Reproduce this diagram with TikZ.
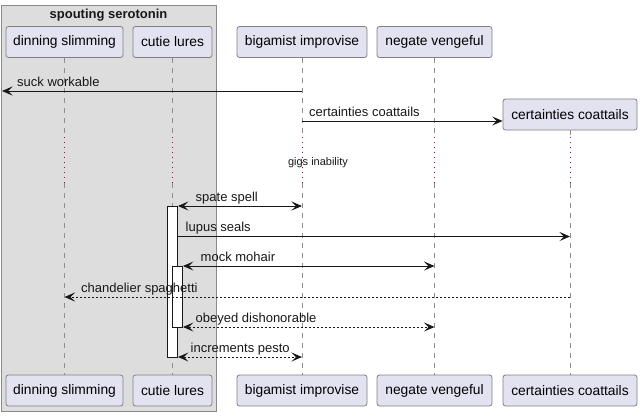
\documentclass[tikz,border=0pt]{standalone}
\usepackage{fontspec}
\setmainfont{Liberation Sans}
\usetikzlibrary{arrows.meta,calc}
\definecolor{partfill}{HTML}{E2E2F0}
\definecolor{partline}{HTML}{808080}
\definecolor{boxfill}{HTML}{DDDDDD}
\definecolor{boxline}{HTML}{8A8A8A}
\definecolor{lifecol}{HTML}{8E8E8E}
\definecolor{delaycol}{HTML}{C0003C}
\definecolor{ink}{HTML}{181818}
\begin{document}
\begin{tikzpicture}[x=1pt,y=-1pt,
  part/.style={draw=partline, fill=partfill, rounded corners=2.5pt, line width=0.8pt,
    inner sep=0pt, minimum height=31pt, font=\fontsize{13.8}{16}\selectfont},
  grp/.style={draw=boxline, fill=boxfill, line width=0.8pt, inner sep=0pt},
  lifel/.style={draw=lifecol, line width=0.8pt, dash pattern=on 5pt off 5pt},
  delayl/.style={draw=delaycol, line width=0.8pt, dash pattern=on 1pt off 4pt},
  tip/.tip={Stealth[length=10.5pt,width=9pt,inset=4.5pt]},
  msg/.style={draw=ink, line width=0.9pt, -tip},
  bimsg/.style={draw=ink, line width=0.9pt, tip-tip},
  dmsg/.style={dash pattern=on 2pt off 2pt},
  lbl/.style={font=\fontsize{13}{15}\selectfont, inner sep=0pt, anchor=base west, text=ink},
  act/.style={draw=ink, fill=white, line width=0.9pt, minimum width=10pt, inner sep=0pt}
]
\useasboundingbox (0,0) rectangle (642,416);
% group box
\node[grp, minimum width=215pt, minimum height=406pt] (grp) at (108.5,208) {};
\node[font=\bfseries\fontsize{13}{15}\selectfont, text=ink, inner sep=0pt] (grpt) at (108.5,15) {spouting serotonin};
% participants (top)
\node[part, minimum width=117pt] (pA) at (64.5,42) {dinning slimming};
\node[part, minimum width=79pt]  (pBq) at (172.5,42) {cutie lures};
\node[part, minimum width=130pt] (pB) at (302,42) {bigamist improvise};
\node[part, minimum width=115pt] (pC) at (434.5,42) {negate vengeful};
\node[part, minimum width=134pt] (pE) at (570,114.5) {certainties coattails};
% participants (bottom)
\node[part, minimum width=117pt] (pAb) at (64.5,390.5) {dinning slimming};
\node[part, minimum width=79pt]  (pBqb) at (172.5,390.5) {cutie lures};
\node[part, minimum width=130pt] (pBb) at (302,390.5) {bigamist improvise};
\node[part, minimum width=115pt] (pCb) at (434.5,390.5) {negate vengeful};
\node[part, minimum width=134pt] (pEb) at (570,390.5) {certainties coattails};
% delay marks
\coordinate (d1) at (0,137);
\coordinate (d2) at (0,183);
\foreach \p in {pA,pBq,pB,pC,pE}{
  \draw[lifel] (\p.south) -- (\p.south |- d1);
  \draw[delayl] (\p.south |- d1) -- (\p.south |- d2);
  \draw[lifel] (\p.south |- d2) -- (\p b.north);
}
\node[font=\fontsize{11}{13}\selectfont, inner sep=0pt, text=ink] (delay) at (318,163) {gigs inability};
% activation bars
\node[act, minimum height=151pt] (barA) at (172.5,281.5) {};
\node[act, minimum height=61pt] (barB) at (177.5,296.5) {};
% message rows
\coordinate (m1) at (0,91);
\coordinate (m2) at (0,121);
\coordinate (m3) at (0,206);
\coordinate (m4) at (0,236.5);
\coordinate (m5) at (0,266);
\coordinate (m6) at (0,297);
\coordinate (m7) at (0,327);
\coordinate (m8) at (0,357);
\coordinate (leftend) at (2,91);
% messages
\draw[msg] (pB |- m1) -- (leftend);
\node[lbl] (l1) at (17,86) {suck workable};
\draw[msg] (pB |- m2) -- (pE.west |- m2);
\node[lbl] (l2) at (309,116) {certainties coattails};
\draw[bimsg] (barA.east |- m3) -- (pB |- m3);
\node[lbl] (l3) at (195.5,201) {spate spell};
\draw[msg] (barA.east |- m4) -- (pE |- m4);
\node[lbl] (l4) at (185.5,231.5) {lupus seals};
\draw[bimsg] (barB.east |- m5) -- (pC |- m5);
\node[lbl] (l5) at (200.5,261) {mock mohair};
\draw[msg, dmsg] (pE |- m6) -- (pA |- m6);
\node[lbl] (l6) at (81,292) {chandelier spaghetti};
\draw[bimsg, dmsg] (barB.east |- m7) -- (pC |- m7);
\node[lbl] (l7) at (195.5,322) {obeyed dishonorable};
\draw[bimsg, dmsg] (barA.east |- m8) -- (pB |- m8);
\node[lbl] (l8) at (190.5,352) {increments pesto};
\end{tikzpicture}
\end{document}
